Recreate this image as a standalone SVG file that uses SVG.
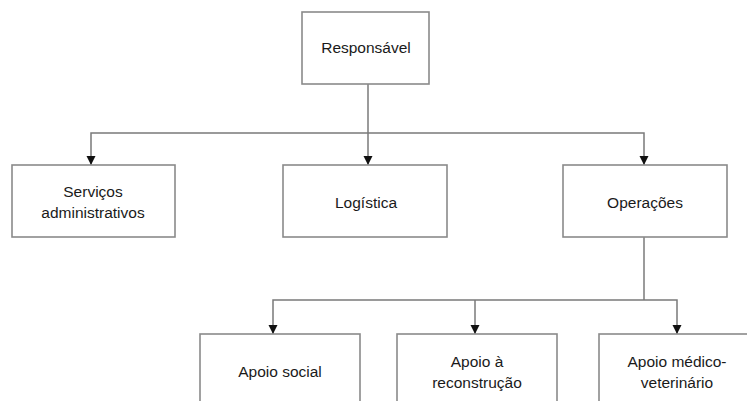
<svg xmlns="http://www.w3.org/2000/svg" width="747" height="401" viewBox="0 0 747 401">
<defs>
<marker id="arr" markerWidth="10" markerHeight="10" refX="9" refY="5" orient="auto" markerUnits="userSpaceOnUse">
<path d="M0,0.5 L9,5 L0,9.5 Z" fill="#111"/>
</marker>
<style>
.box{fill:#fff;stroke:#8a8a8a;stroke-width:1.6}
.ln{fill:none;stroke:#7a7a7a;stroke-width:1.5}
.t{font-family:"Liberation Sans",Arial,sans-serif;font-size:15.5px;fill:#1a1a1a;text-anchor:middle}
</style>
</defs>
<rect width="747" height="401" fill="#fff"/>
<g id="connectors">
<path class="ln" d="M368,84 V133"/>
<path class="ln" d="M368,133 H91 V165" marker-end="url(#arr)"/>
<path class="ln" d="M368,133 V165" marker-end="url(#arr)"/>
<path class="ln" d="M368,133 H644 V165" marker-end="url(#arr)"/>
<path class="ln" d="M644,237 V300"/>
<path class="ln" d="M644,300 H273 V334" marker-end="url(#arr)"/>
<path class="ln" d="M475,300 V334" marker-end="url(#arr)"/>
<path class="ln" d="M644,300 H677 V334" marker-end="url(#arr)"/>
</g>
<g id="responsavel">
<rect class="box" x="302" y="12" width="127" height="72"/>
<text class="t" x="366" y="53">Responsável</text>
</g>
<g id="servicos">
<rect class="box" x="12" y="165" width="163" height="72"/>
<text class="t" x="93" y="197">Serviços</text>
<text class="t" x="93" y="218">administrativos</text>
</g>
<g id="logistica">
<rect class="box" x="283" y="165" width="164" height="72"/>
<text class="t" x="366" y="208">Logística</text>
</g>
<g id="operacoes">
<rect class="box" x="563" y="165" width="164" height="72"/>
<text class="t" x="645" y="208">Operações</text>
</g>
<g id="apoio-social">
<rect class="box" x="200" y="334" width="160" height="80"/>
<text class="t" x="280" y="377">Apoio social</text>
</g>
<g id="apoio-reconstrucao">
<rect class="box" x="397" y="334" width="160" height="80"/>
<text class="t" x="477" y="367">Apoio à</text>
<text class="t" x="477" y="388">reconstrução</text>
</g>
<g id="apoio-medico">
<rect class="box" x="599" y="334" width="160" height="80"/>
<text class="t" x="677" y="367">Apoio médico-</text>
<text class="t" x="677" y="388">veterinário</text>
</g>
</svg>
